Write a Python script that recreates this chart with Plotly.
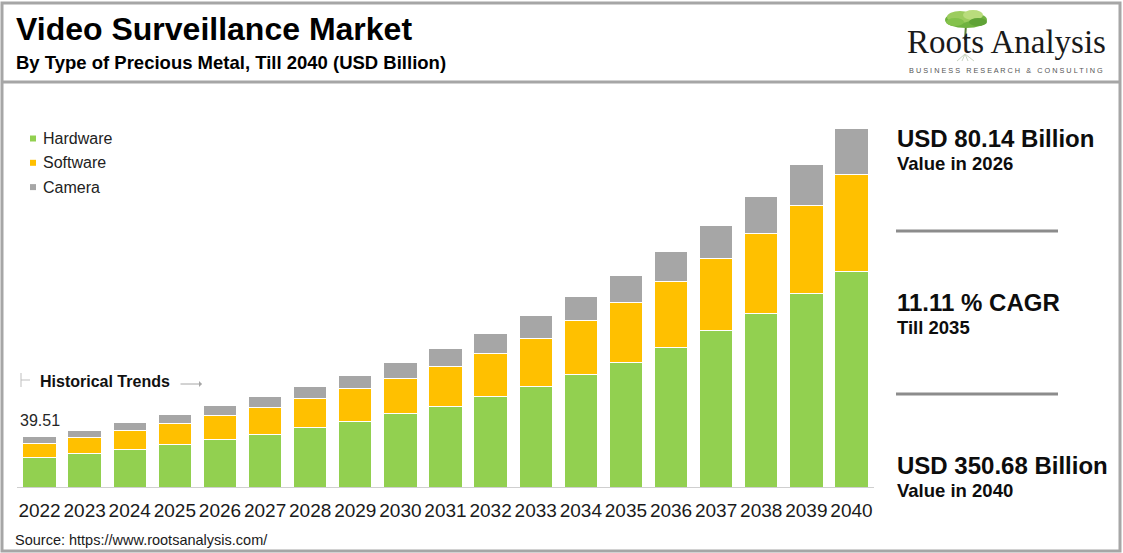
import plotly.graph_objects as go

# values (USD billion, stacked)
years = [str(y) for y in range(2022, 2041)]
hardware = [22.9, 26.0, 29.1, 33.0, 36.9, 41.3, 46.0, 51.0, 57.2, 63.1,
            70.9, 78.7, 87.8, 97.4, 109.1, 121.6, 135.6, 150.7, 168.1]
software = [10.9, 12.7, 14.8, 16.4, 18.7, 20.6, 22.6, 25.4, 27.7, 30.9,
            33.5, 37.4, 41.8, 46.3, 50.7, 56.1, 61.6, 68.3, 75.8]
camera = [5.71, 5.5, 6.5, 7.2, 8.0, 8.8, 9.9, 10.7, 12.2, 13.8,
          15.1, 17.5, 18.7, 21.0, 23.7, 26.0, 29.1, 32.3, 35.4]
series = ["Hardware", "Software", "Camera"]
colors = ["#92d050", "#ffc000", "#a6a6a6"]
first_label = "39.51"

kpi_big = ["USD 80.14 Billion", "11.11 % CAGR", "USD 350.68 Billion"]
kpi_small = ["Value in 2026", "Till 2035", "Value in 2040"]

W, H = 1123, 553
L, R, T, B = 17, 249, 100, 66
PW, PH = W - L - R, H - T - B
FONT = "Liberation Sans, Arial, sans-serif"


def px(x):
    return (x - L) / PW


def py(y):
    return (H - B - y) / PH


fig = go.Figure()
for name, vals, col in zip(series, [hardware, software, camera], colors):
    fig.add_trace(go.Bar(x=years, y=vals, name=name, marker_color=col,
                         marker_line=dict(color="#ffffff", width=1), hoverinfo="x+y+name"))

shapes = []
line_gray = "#a6a6a6"
# frame and header separator
shapes.append(dict(type="rect", xref="paper", yref="paper", x0=px(2), x1=px(1120), y0=py(3), y1=py(551),
                   line=dict(color=line_gray, width=3)))
shapes.append(dict(type="line", xref="paper", yref="paper", x0=px(2), x1=px(1120), y0=py(82), y1=py(82),
                   line=dict(color=line_gray, width=3)))
# right panel separators
for yy in (231, 394):
    shapes.append(dict(type="line", xref="paper", yref="paper", x0=px(896), x1=px(1058), y0=py(yy), y1=py(yy),
                       line=dict(color="#8c8c8c", width=3)))
# historical trends bracket
shapes.append(dict(type="line", xref="paper", yref="paper", x0=px(21), x1=px(21), y0=py(373), y1=py(387),
                   line=dict(color="#bfbfbf", width=1)))
shapes.append(dict(type="line", xref="paper", yref="paper", x0=px(21), x1=px(30), y0=py(380), y1=py(380),
                   line=dict(color="#bfbfbf", width=1)))
# legend swatches
for i, col in enumerate(colors):
    cy = 138.5 + i * 24.3
    shapes.append(dict(type="rect", xref="paper", yref="paper", x0=px(30), x1=px(36), y0=py(cy - 3), y1=py(cy + 3),
                       fillcolor=col, line=dict(width=0)))
# logo tree
shapes.append(dict(type="line", xref="paper", yref="paper", x0=px(966), x1=px(965), y0=py(24), y1=py(40),
                   line=dict(color="#5b7f35", width=2)))
for (cx, cy, rx, ry, col) in [(966, 20, 21, 8, "#6fb23f"), (960, 17, 13, 6, "#9ccc5e"),
                              (973, 15, 10, 5, "#b9dc7c"), (955, 22, 9, 4, "#84c24c"),
                              (978, 22, 9, 4, "#5fa236")]:
    shapes.append(dict(type="circle", xref="paper", yref="paper", x0=px(cx - rx), x1=px(cx + rx),
                       y0=py(cy + ry), y1=py(cy - ry), fillcolor=col, line=dict(width=0)))
for dx in (-8, -3, 3, 9):
    shapes.append(dict(type="line", xref="paper", yref="paper", x0=px(965), x1=px(965 + dx), y0=py(54), y1=py(61),
                       line=dict(color="#c9d6c2", width=1)))

ann = []
ann.append(dict(text="<b>Video Surveillance Market</b>", x=px(14), y=py(29), xanchor="left", yanchor="middle",
                font=dict(size=32, color="#000000", family=FONT)))
ann.append(dict(text="<b>By Type of Precious Metal, Till 2040 (USD Billion)</b>", x=px(14), y=py(63),
                xanchor="left", yanchor="middle", font=dict(size=18.5, color="#000000", family=FONT)))
ann.append(dict(text="Roots Analysis", x=px(1006), y=py(42), xanchor="center", yanchor="middle",
                font=dict(size=33, color="#1a1a1a", family="Liberation Serif, Times New Roman, serif")))
tag = "   ".join(" ".join(w) for w in "BUSINESS RESEARCH & CONSULTING".split())
ann.append(dict(text=tag, x=px(1006), y=py(70.5), xanchor="center", yanchor="middle",
                font=dict(size=7.3, color="#555555", family=FONT)))
for i, name in enumerate(series):
    ann.append(dict(text=name, x=px(41), y=py(138.5 + i * 24.3), xanchor="left", yanchor="middle",
                    font=dict(size=16, color="#222222", family=FONT)))
ann.append(dict(text="<b>Historical Trends</b>", x=px(38), y=py(381), xanchor="left", yanchor="middle",
                font=dict(size=16, color="#111111", family=FONT)))
ann.append(dict(text="", x=px(202), y=py(384), ax=-23, ay=0, showarrow=True, arrowhead=1, arrowsize=1,
                arrowwidth=1, arrowcolor="#a6a6a6"))
# label above the first bar (x given as category index)
ann.append(dict(text=first_label, x=0, y=hardware[0] + software[0] + camera[0], xref="x", yref="y",
                xanchor="center", yanchor="bottom", yshift=5, showarrow=False,
                font=dict(size=16, color="#262626", family=FONT)))
for i, (big, small) in enumerate(zip(kpi_big, kpi_small)):
    ybig = [138, 302, 465][i]
    ann.append(dict(text="<b>" + big + "</b>", x=px(895), y=py(ybig), xanchor="left", yanchor="middle",
                    font=dict(size=24, color="#0d0d0d", family=FONT)))
    ann.append(dict(text="<b>" + small + "</b>", x=px(895), y=py(ybig + 25), xanchor="left", yanchor="middle",
                    font=dict(size=18.5, color="#0d0d0d", family=FONT)))
ann.append(dict(text="Source: https://www.rootsanalysis.com/", x=px(13), y=py(540), xanchor="left",
                yanchor="middle", font=dict(size=14.5, color="#1a1a1a", family=FONT)))
for a in ann:
    a.setdefault("xref", "paper")
    a.setdefault("yref", "paper")
    a.setdefault("showarrow", False)

fig.update_layout(
    width=W, height=H, barmode="stack", bargap=0.26,
    margin=dict(l=L, r=R, t=T, b=B, autoexpand=False),
    paper_bgcolor="#ffffff", plot_bgcolor="#ffffff",
    showlegend=False, shapes=shapes, annotations=ann,
    font=dict(family=FONT),
    xaxis=dict(type="category", range=[-0.5, len(years) - 0.5], automargin=False, showgrid=False,
               showline=True, linecolor="#cfcfcf", linewidth=1,
               ticks="outside", ticklen=6, tickcolor="rgba(0,0,0,0)",
               tickfont=dict(size=19, color="#1a1a1a", family=FONT)),
    yaxis=dict(range=[0, PH * 39.51 / 50.7], visible=False, showgrid=False),
)

fig.write_html("out.html", config={"displayModeBar": False, "displaylogo": False},
               post_script="document.body.style.margin = '0';")
